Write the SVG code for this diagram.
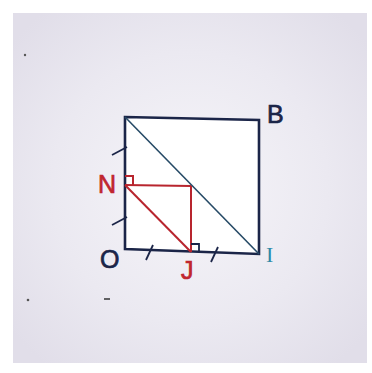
<svg xmlns="http://www.w3.org/2000/svg" width="372" height="373" viewBox="0 0 372 373">
<defs>
<radialGradient id="paper" cx="0.5" cy="0.5" r="0.65">
<stop offset="0" stop-color="#f6f5f9"/>
<stop offset="0.6" stop-color="#ebe9f1"/>
<stop offset="1" stop-color="#e1dee9"/>
</radialGradient>
<style>
.sq{fill:#ffffff;stroke:#1b2548;stroke-width:2.6}
.diag{stroke:#264a66;stroke-width:1.6;fill:none}
.red{stroke:#b8252e;stroke-width:2;fill:none}
.tick{stroke:#1b2548;stroke-width:1.8;fill:none}
.lbl{font-family:"Liberation Sans",Arial,sans-serif;font-size:25px;fill:#1b2548;stroke:#1b2548;stroke-width:0.7}
.lred{fill:#c0262f;stroke:#c0262f}
.lteal{font-family:"Liberation Serif","Times New Roman",serif;font-size:22px;fill:#2f8aa8}
</style>
</defs>
<rect x="0" y="0" width="372" height="373" fill="#ffffff"/>
<rect x="13" y="13" width="354" height="350" fill="url(#paper)"/>
<circle cx="25" cy="55" r="1.2" fill="#555"/>
<circle cx="28" cy="300" r="1.3" fill="#555"/>
<line x1="104" y1="299" x2="110" y2="299" stroke="#333" stroke-width="1.5"/>
<g id="square">
<polygon class="sq" points="125,117 259,120 259,254 125,249"/>
</g>
<g id="connectors">
<line class="diag" x1="125" y1="117" x2="259" y2="254"/>
<line class="red" x1="125" y1="185" x2="191" y2="186"/>
<line class="red" x1="191" y1="186" x2="191" y2="252"/>
<line class="red" x1="125" y1="185" x2="191" y2="252"/>
<polyline class="red" stroke-width="1.5" points="125,176 133,176 133,185"/>
<polyline class="tick" stroke-width="1.5" points="191,244 199,244 199,252"/>
<line class="tick" x1="112" y1="155" x2="127" y2="147"/>
<line class="tick" x1="112" y1="225" x2="127" y2="217"/>
<line class="tick" x1="146" y1="260" x2="153" y2="245"/>
<line class="tick" x1="211" y1="262" x2="218" y2="247"/>
</g>
<g id="label-B"><text class="lbl" x="267" y="123">B</text></g>
<g id="label-N"><text class="lbl lred" x="98" y="193">N</text></g>
<g id="label-O"><text class="lbl" x="100" y="268">O</text></g>
<g id="label-J"><text class="lbl lred" x="181" y="279">J</text></g>
<g id="label-I"><text class="lteal" x="266" y="262">I</text></g>
</svg>
